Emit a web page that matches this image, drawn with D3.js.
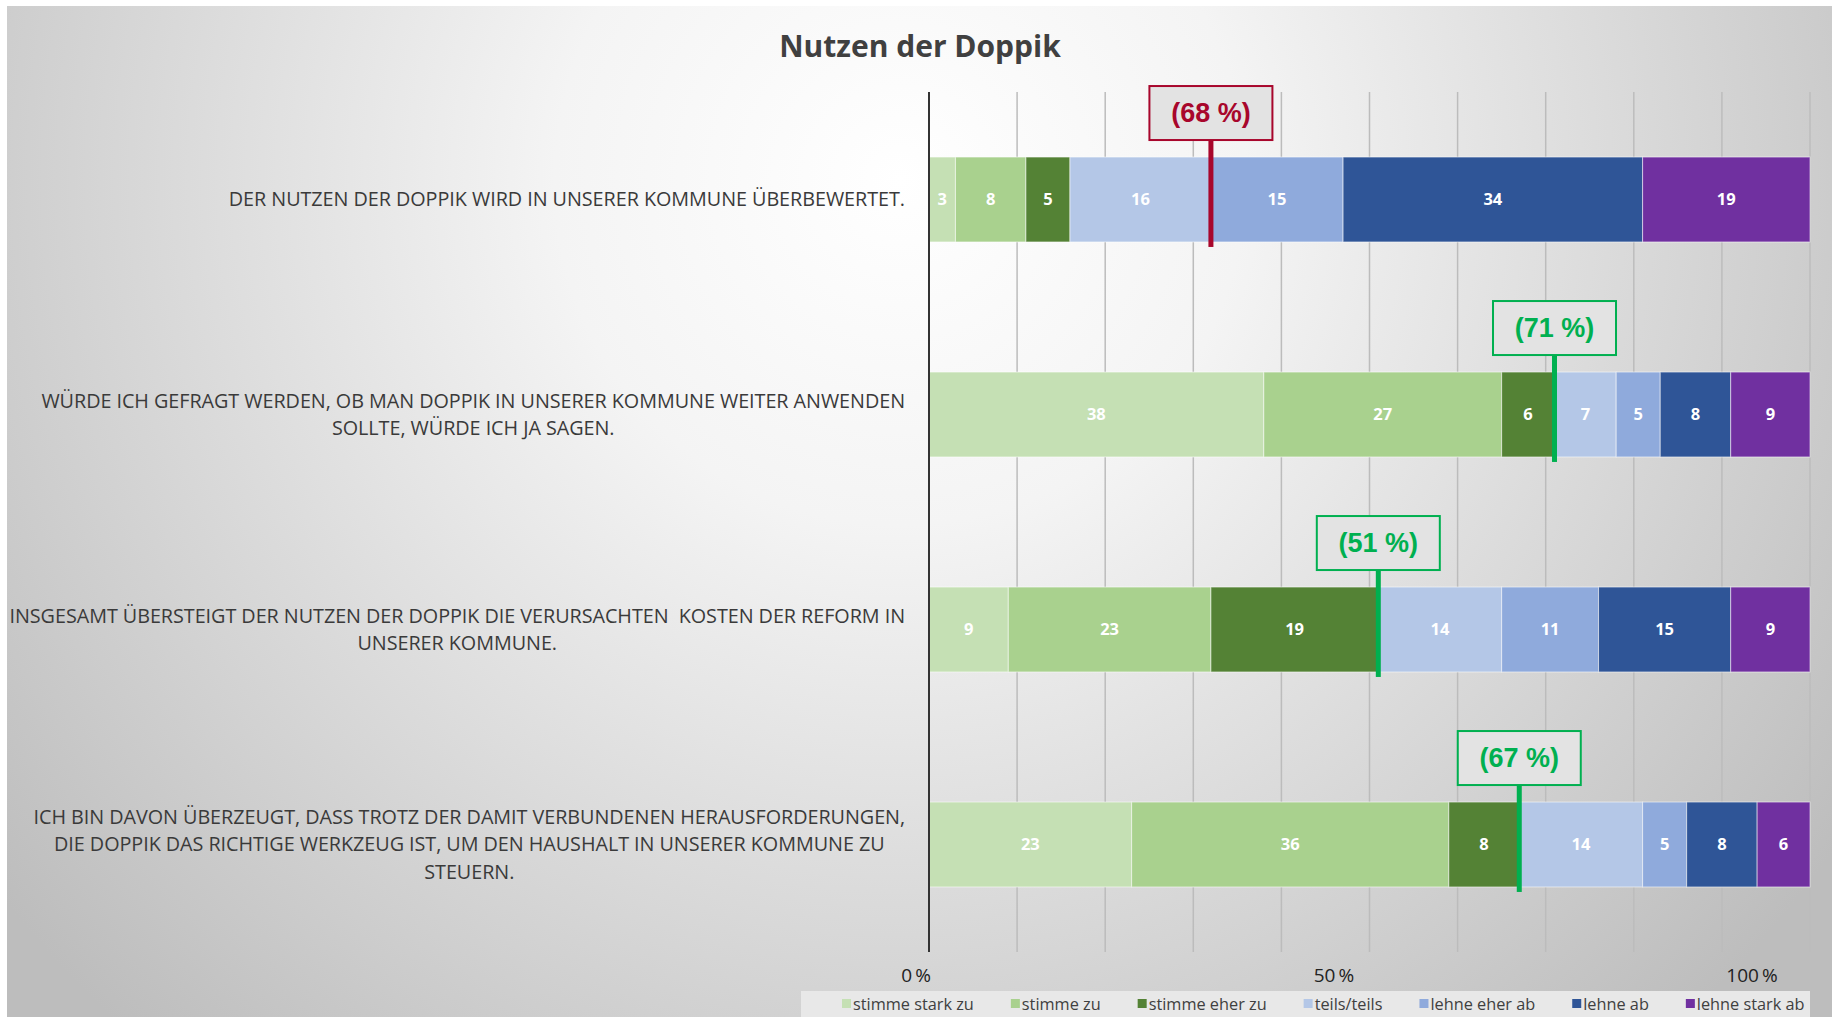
<!DOCTYPE html>
<html>
<head>
<meta charset="utf-8">
<script src="https://cdnjs.cloudflare.com/ajax/libs/d3/7.8.5/d3.min.js"></script>
<style>
  html, body { margin: 0; padding: 0; background: #fff; }
  svg { display: block; }
</style>
</head>
<body>
<svg id="chart" width="1832" height="1017"></svg>
<script>
// --- data ---
var questions = [
  ["DER NUTZEN DER DOPPIK WIRD IN UNSERER KOMMUNE ÜBERBEWERTET."],
  ["WÜRDE ICH GEFRAGT WERDEN, OB MAN DOPPIK IN UNSERER KOMMUNE WEITER ANWENDEN", "SOLLTE, WÜRDE ICH JA SAGEN."],
  ["INSGESAMT ÜBERSTEIGT DER NUTZEN DER DOPPIK DIE VERURSACHTEN  KOSTEN DER REFORM IN", "UNSERER KOMMUNE."],
  ["ICH BIN DAVON ÜBERZEUGT, DASS TROTZ DER DAMIT VERBUNDENEN HERAUSFORDERUNGEN,", "DIE DOPPIK DAS RICHTIGE WERKZEUG IST, UM DEN HAUSHALT IN UNSERER KOMMUNE ZU", "STEUERN."]
];
var categories = ["stimme stark zu", "stimme zu", "stimme eher zu", "teils/teils", "lehne eher ab", "lehne ab", "lehne stark ab"];
var values = [
  [3, 8, 5, 16, 15, 34, 19],
  [38, 27, 6, 7, 5, 8, 9],
  [9, 23, 19, 14, 11, 15, 9],
  [23, 36, 8, 14, 5, 8, 6]
];
// share shown in the callout box (row 1: disagree share, others: agree share)
var callouts = [68, 71, 51, 67];
var axisLabels = [0, 50, 100];
var gridTicks = [0, 10, 20, 30, 40, 50, 60, 70, 80, 90, 100];

var colors = ["#C5E0B4", "#A9D18E", "#548235", "#B4C7E7", "#8FAADC", "#2F5597", "#7030A0"];
var posColor = "#00B050";
var negColor = "#A8062C";

var svg = d3.select("#chart");
var W = 1832, H = 1017;
var sans = "'Open Sans', sans-serif";

// background
var defs = svg.append("defs");
var grad = defs.append("radialGradient").attr("id", "bg")
  .attr("gradientUnits", "userSpaceOnUse")
  .attr("cx", 900).attr("cy", 180).attr("r", 1150);
grad.append("stop").attr("offset", 0).attr("stop-color", "#ffffff");
grad.append("stop").attr("offset", 0.3).attr("stop-color", "#f4f4f4");
grad.append("stop").attr("offset", 1).attr("stop-color", "#bdbdbd");
svg.append("rect").attr("x", 7).attr("y", 6).attr("width", W - 7).attr("height", H - 6)
  .attr("fill", "url(#bg)");

// scales
var x = d3.scaleLinear().domain([0, 100]).range([929, 1810]);
var y = d3.scaleBand().domain(d3.range(questions.length)).range([92, 952])
  .paddingInner(0.605).paddingOuter(0.3025);
var labelX = d3.scaleLinear().domain([0, 100]).range([916, 1752]);

// title
svg.append("text").attr("x", 920).attr("y", 57).attr("text-anchor", "middle")
  .style("font-family", sans).style("font-weight", "bold")
  .style("font-size", "30px").style("fill", "#404040")
  .text("Nutzen der Doppik");

// grid
svg.append("g").selectAll("line").data(gridTicks.slice(1)).join("line")
  .attr("x1", d => x(d)).attr("x2", d => x(d))
  .attr("y1", 92).attr("y2", 952)
  .attr("stroke", "#bcbcbc").attr("stroke-width", 1.5);

// bars
var rows = svg.append("g").selectAll("g").data(values).join("g");
rows.each(function(row, i) {
  var stack = [];
  var acc = 0;
  row.forEach(function(v, k) { stack.push({ v: v, k: k, x0: acc, x1: acc + v }); acc += v; });
  var g = d3.select(this);
  g.selectAll("rect").data(stack).join("rect")
    .attr("x", d => x(d.x0)).attr("y", y(i))
    .attr("width", d => x(d.x1) - x(d.x0)).attr("height", y.bandwidth())
    .attr("fill", d => colors[d.k])
    .attr("stroke", "rgba(255,255,255,0.55)").attr("stroke-width", 1);
  g.selectAll("text").data(stack.filter(d => d.v > 0)).join("text")
    .attr("x", d => (x(d.x0) + x(d.x1)) / 2).attr("y", y(i) + y.bandwidth() / 2)
    .attr("dy", "0.35em").attr("text-anchor", "middle")
    .style("font-family", sans).style("font-weight", "bold")
    .style("font-size", "16.5px").style("fill", "#fff")
    .text(d => d.v);
});

// axis line
svg.append("line").attr("x1", x(0)).attr("x2", x(0)).attr("y1", 92).attr("y2", 952)
  .attr("stroke", "#333").attr("stroke-width", 2);

// axis labels
svg.append("g").selectAll("text").data(axisLabels).join("text")
  .attr("x", d => labelX(d)).attr("y", 982).attr("text-anchor", "middle")
  .style("font-family", sans).style("font-size", "19px")
  .style("fill", "#222")
  .text(d => d + "\u2009%");

// category labels (lines centered, block right edge at 905)
var cat = svg.append("g");
questions.forEach(function(lines, i) {
  var cy = y(i) + y.bandwidth() / 2;
  var lh = 27.5;
  var t = cat.append("text").attr("text-anchor", "middle")
    .style("font-family", sans).style("font-size", "19.8px")
    .style("letter-spacing", "-0.05px").style("white-space", "pre")
    .style("fill", "#3a3a3a");
  var spans = lines.map(function(l, j) {
    return t.append("tspan").attr("y", cy + (j - (lines.length - 1) / 2) * lh).attr("dy", "0.35em")
      .text(l);
  });
  var maxW = d3.max(spans, s => s.node().getComputedTextLength());
  spans.forEach(s => s.attr("x", 905 - maxW / 2));
});

// callouts
var ann = svg.append("g");
callouts.forEach(function(c, i) {
  var agree = d3.sum(values[i].slice(0, 3));
  var pos = c === agree;
  var col = pos ? posColor : negColor;
  var mx = pos ? x(agree) : x(100 - c);
  var top = y(i) - 71;
  ann.append("line").attr("x1", mx).attr("x2", mx)
    .attr("y1", top + 54).attr("y2", y(i) + y.bandwidth() + 5)
    .attr("stroke", col).attr("stroke-width", 5);
  ann.append("rect").attr("x", mx - 61.5).attr("y", top).attr("width", 123).attr("height", 54)
    .attr("fill", "#e3e3e3").attr("stroke", col).attr("stroke-width", 2);
  ann.append("text").attr("x", mx).attr("y", top + 27).attr("dy", "0.35em")
    .attr("text-anchor", "middle")
    .style("font-family", "'Liberation Sans', Arial, sans-serif").style("font-weight", "bold")
    .style("font-size", "27px").style("fill", col)
    .text("(" + c + " %)");
});

// legend
svg.append("rect").attr("x", 801).attr("y", 991).attr("width", 1009).attr("height", 26)
  .attr("fill", "#e8e8e8");
var lx = 842;
var leg = svg.append("g");
categories.forEach(function(c, k) {
  leg.append("rect").attr("x", lx).attr("y", 999).attr("width", 9).attr("height", 9)
    .attr("fill", colors[k]);
  var t = leg.append("text").attr("x", lx + 11).attr("y", 1004).attr("dy", "0.35em")
    .style("font-family", sans).style("font-size", "16.3px").style("fill", "#404040")
    .text(c);
  lx += 11 + t.node().getComputedTextLength() + 37;
});
</script>
</body>
</html>
